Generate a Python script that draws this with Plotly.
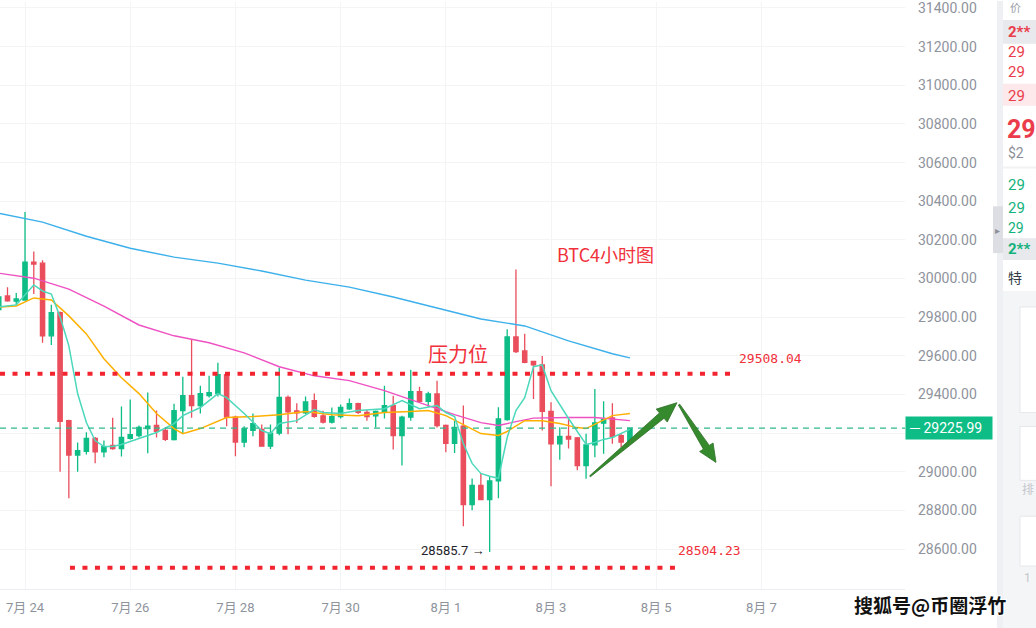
import plotly.graph_objects as go
import pandas as pd

# ---------------- data ----------------
start_time = "2023-07-23 12:00"
opens = [29840, 29910, 29883, 29889, 30085, 30080, 29704, 29824, 29265, 29087,
         29106, 29173, 29103, 29137, 29121, 29173, 29188, 29224, 29240, 29214,
         29167, 29317, 29394, 29343, 29394, 29405, 29503, 29283, 29154, 29215,
         29220, 29133, 29200, 29385, 29315, 29305, 29369, 29290, 29257, 29286,
         29326, 29353, 29308, 29290, 29308, 29343, 29188, 29283, 29415, 29365,
         29403, 29240, 29148, 29236, 28831, 28930, 28857, 28953, 29270, 29698,
         29626, 29571, 29554, 29313, 29145, 29183, 29176, 29033, 29140, 29252,
         29279, 29188, 29154]
highs = [29975, 29955, 29925, 30345, 30140, 30095, 29864, 29830, 29270, 29152,
         29205, 29180, 29162, 29280, 29338, 29374, 29240, 29410, 29317, 29230,
         29353, 29492, 29688, 29446, 29497, 29565, 29505, 29290, 29236, 29302,
         29245, 29245, 29540, 29395, 29355, 29390, 29406, 29316, 29333, 29348,
         29379, 29358, 29322, 29318, 29446, 29394, 29290, 29528, 29441, 29415,
         29472, 29245, 29265, 29343, 28966, 28994, 28973, 29334, 29738, 30047,
         29715, 29575, 29600, 29360, 29231, 29276, 29180, 29197, 29429, 29365,
         29355, 29200, 29230]
lows = [29820, 29880, 29860, 29885, 29920, 29668, 29657, 29000, 28863, 29000,
        29090, 29045, 29075, 29115, 29080, 29167, 29178, 29096, 29178, 29160,
        29162, 29198, 29280, 29302, 29385, 29390, 29236, 29081, 29128, 29184,
        29130, 29118, 29190, 29195, 29253, 29300, 29280, 29250, 29250, 29276,
        29320, 29300, 29265, 29230, 29276, 29116, 29033, 29265, 29360, 29335,
        29230, 29102, 29097, 28719, 28801, 28855, 28585.7, 28863, 29265, 29615,
        29562, 29377, 29214, 28925, 29063, 29121, 29008, 28965, 29076, 29094,
        29145, 29128, 29150]
closes = [29905, 29885, 29895, 30085, 30075, 29704, 29824, 29262, 29087, 29110,
          29173, 29103, 29131, 29120, 29178, 29193, 29230, 29236, 29210, 29168,
          29317, 29394, 29343, 29405, 29410, 29503, 29283, 29154, 29224, 29250,
          29133, 29200, 29385, 29310, 29305, 29362, 29287, 29257, 29286, 29333,
          29353, 29308, 29286, 29313, 29343, 29188, 29283, 29415, 29365, 29403,
          29240, 29148, 29230, 28831, 28930, 28857, 28953, 29274, 29698, 29622,
          29566, 29554, 29313, 29145, 29183, 29170, 29033, 29140, 29254, 29273,
          29183, 29154, 29225.99]

# moving-average lines (candle index -> price)
ma_fast_idx = [0, 2, 4, 5, 6, 7, 8, 9, 10, 11, 12, 13, 14, 16, 18, 20, 21, 23, 25, 26,
               28, 30, 31, 32, 34, 36, 37, 39, 41, 44, 46, 48, 50, 51, 52, 53, 54, 55,
               56, 57, 58, 59, 60, 61, 62, 63, 65, 67, 68, 69, 70, 72]
ma_fast_val = [29853, 29864, 29967, 29936, 29920, 29802, 29652, 29405, 29255, 29162,
               29131, 29131, 29142, 29173, 29204, 29250, 29291, 29333, 29405, 29384,
               29302, 29214, 29198, 29250, 29265, 29322, 29307, 29302, 29317, 29327,
               29369, 29327, 29343, 29307, 29286, 29147, 29044, 28992, 28977, 28967,
               29178, 29317, 29384, 29544, 29554, 29420, 29276, 29142, 29152, 29168,
               29178, 29220]
ma_mid_idx = [0, 2, 4, 6, 8, 10, 12, 14, 16, 18, 20, 21, 23, 26, 29, 32, 35, 38, 41,
              44, 47, 49, 51, 53, 55, 57, 58, 60, 62, 64, 66, 67, 68, 70, 72]
ma_mid_val = [29853, 29858, 29900, 29889, 29807, 29714, 29585, 29487, 29405, 29302,
              29224, 29198, 29224, 29281, 29286, 29296, 29312, 29296, 29291, 29307,
              29312, 29317, 29291, 29245, 29198, 29188, 29209, 29265, 29265, 29250,
              29229, 29224, 29245, 29291, 29302]
ma_slow_idx = [0, 4, 8, 12, 16, 20, 24, 28, 32, 36, 40, 44, 48, 52, 55, 57, 59, 61,
               65, 68, 72]
ma_slow_val = [30028, 30002, 29946, 29858, 29760, 29704, 29668, 29616, 29544, 29497,
               29472, 29420, 29358, 29296, 29255, 29240, 29260, 29278, 29281, 29281,
               29265]
ma_long_idx = [0, 5, 10, 15, 20, 25, 30, 35, 40, 45, 50, 55, 60, 65, 70, 72]
ma_long_val = [30338, 30292, 30219, 30157, 30111, 30080, 30039, 29992, 29956, 29905,
               29848, 29791, 29755, 29678, 29611, 29590]

resistance_level = 29508.04
support_level = 28504.23
last_price = 29225.99
low_label = "28585.7 →"
y_ticks = list(range(28600, 31401, 200))
hidden_tick = 29200  # covered by the last-price tag in the reference
x_tick_dates = ["2023-07-24", "2023-07-26", "2023-07-28", "2023-07-30",
                "2023-08-01", "2023-08-03", "2023-08-05", "2023-08-07"]
x_tick_text = ["7月 24", "7月 26", "7月 28", "7月 30", "8月 1", "8月 3", "8月 5", "8月 7"]

# ---------------- styling ----------------
GREEN = "#0dbd85"
RED = "#ea4e5c"
DOT_RED = "#f2242f"
W, H = 1036, 628
PL, PR, PT, PB = 0, 131, 0, 39
PW, PH = W - PL - PR, H - PT - PB
X0 = pd.Timestamp("2023-07-23 12:35")
X1 = pd.Timestamp("2023-08-09 17:31")
Y0, Y1 = 28394, 31431

dates = pd.date_range(start_time, periods=len(opens), freq="4h")

fig = go.Figure()
fig.add_trace(go.Candlestick(
    x=dates, open=opens, high=highs, low=lows, close=closes,
    increasing=dict(line=dict(color=GREEN, width=1.3), fillcolor=GREEN),
    decreasing=dict(line=dict(color=RED, width=1.3), fillcolor=RED),
    whiskerwidth=0, hoverinfo="skip", showlegend=False))

for idx, val, col, wd in [(ma_long_idx, ma_long_val, "#3cb0ea", 1.4),
                          (ma_slow_idx, ma_slow_val, "#ee52c2", 1.4),
                          (ma_mid_idx, ma_mid_val, "#ffb000", 1.5),
                          (ma_fast_idx, ma_fast_val, "#4cd8bb", 1.5)]:
    fig.add_trace(go.Scatter(x=[dates[i] for i in idx], y=val, mode="lines",
                             line=dict(color=col, width=wd, shape="linear"),
                             hoverinfo="skip", showlegend=False))

# red dotted key levels
fig.add_trace(go.Scatter(x=[X0, pd.Timestamp("2023-08-06 12:00")],
                         y=[resistance_level, resistance_level], mode="lines",
                         line=dict(color=DOT_RED, width=4, dash="5px,7.5px"),
                         hoverinfo="skip", showlegend=False))
fig.add_trace(go.Scatter(x=[pd.Timestamp("2023-07-24 20:30"), pd.Timestamp("2023-08-05 08:40")],
                         y=[support_level, support_level], mode="lines",
                         line=dict(color=DOT_RED, width=4, dash="5px,7.5px"),
                         hoverinfo="skip", showlegend=False))

shapes = []
# last price dashed line
shapes.append(dict(type="line", xref="paper", x0=0, x1=1, yref="y",
                   y0=last_price, y1=last_price,
                   line=dict(color="#2fb98c", width=1.3, dash="6px,5px")))


def to_paper(t, p):
    t = pd.Timestamp(t)
    px = (t - X0) / (X1 - X0) * PW
    py = (Y1 - p) / (Y1 - Y0) * PH
    return px, py


def arrow_path(tail, tip, tail_hw=0.6, shaft_hw=3.5, head_hw=8.5, head_len=20):
    (tx, ty), (hx, hy) = to_paper(*tail), to_paper(*tip)
    dx, dy = hx - tx, hy - ty
    ln = (dx * dx + dy * dy) ** 0.5
    ux, uy = dx / ln, dy / ln
    nx, ny = -uy, ux
    bx, by = hx - ux * head_len, hy - uy * head_len
    pts = [(tx + nx * tail_hw, ty + ny * tail_hw),
           (bx + nx * shaft_hw, by + ny * shaft_hw),
           (bx + nx * head_hw, by + ny * head_hw),
           (hx, hy),
           (bx - nx * head_hw, by - ny * head_hw),
           (bx - nx * shaft_hw, by - ny * shaft_hw),
           (tx - nx * tail_hw, ty - ny * tail_hw)]
    return "M " + " L ".join(f"{x / PW:.5f},{1 - y / PH:.5f}" for x, y in pts) + " Z"


ARROW = "#358a2d"
shapes.append(dict(type="path", xref="paper", yref="paper",
                   path=arrow_path(("2023-08-03 17:47", 28977), ("2023-08-05 09:29", 29358)),
                   fillcolor=ARROW, line=dict(width=0.8, color="#2d6e27")))
shapes.append(dict(type="path", xref="paper", yref="paper",
                   path=arrow_path(("2023-08-05 10:25", 29348), ("2023-08-06 03:17", 29049),
                                   tail_hw=0.8, shaft_hw=3.5, head_hw=8, head_len=18),
                   fillcolor=ARROW, line=dict(width=0.8, color="#2d6e27")))


def px_rect(x0, y0, x1, y1, fill, line=None):
    d = dict(type="rect", xref="paper", yref="paper", x0=x0 / PW, x1=x1 / PW,
             y0=1 - y0 / PH, y1=1 - y1 / PH, fillcolor=fill, layer="above",
             line=dict(width=0) if line is None else dict(width=1, color=line))
    return d


# right side order-book panel (partially visible)
shapes += [
    px_rect(905, 589, 1036, 628, "white"),
    px_rect(997, -1, 1003, 629, "#eff0f3"),
    px_rect(993, 205, 1003, 252, "#dcdee3"),
    px_rect(1003, 18, 1037, 42, "#e8e9ec"),
    px_rect(1003, 82, 1037, 104, "#fde9eb"),
    px_rect(1003, 165, 1037, 167, "#f1f2f4"),
    px_rect(1003, 237, 1037, 259, "#e8e9ec"),
    px_rect(1003, 290, 1037, 629, "#f4f5f7"),
    px_rect(1020, 306, 1040, 412, "white", "#e6e7ea"),
    px_rect(1020, 426, 1040, 480, "white", "#e6e7ea"),
    px_rect(1020, 516, 1040, 566, "white", "#e6e7ea"),
]

annotations = []


def px_text(x, y, text, color, size, weight="normal", xanchor="left", family="Roboto, Noto Sans CJK SC"):
    return dict(xref="paper", yref="paper", x=x / PW, y=1 - y / PH, text=text,
                showarrow=False, xanchor=xanchor, yanchor="middle",
                font=dict(color=color, size=size, family=family, weight=weight))


annotations += [
    px_text(1006, 30, "2**", "#ea3c4a", 15, "bold"),
    px_text(1006, 50, "29", "#ea3c4a", 15),
    px_text(1006, 70, "29", "#ea3c4a", 15),
    px_text(1006, 94, "29", "#ea3c4a", 15),
    px_text(1005, 128, "29", "#ea3c4a", 25, "bold"),
    px_text(1006, 152, "$2", "#8c9099", 14),
    px_text(1006, 184, "29", "#13b27c", 15),
    px_text(1006, 207, "29", "#13b27c", 15),
    px_text(1006, 227, "29", "#13b27c", 14),
    px_text(1006, 248, "2**", "#13b27c", 15, "bold"),
    px_text(1006, 277, "特", "#333a44", 14),
    px_text(1020, 490, "排", "#c4c7cc", 12),
    px_text(1022, 578, "1", "#c4c7cc", 12),
    px_text(993, 229, "▸", "#8c9099", 10),
    px_text(1008, 7, "价", "#9ca0a8", 11),
]

# chart texts
annotations += [
    dict(x=pd.Timestamp("2023-08-01 05:30"), y=29611, xref="x", yref="y", text="压力位",
         showarrow=False, font=dict(color="#f0303a", size=20, family="Noto Sans CJK SC")),
    dict(x=pd.Timestamp("2023-08-04 00:40"), y=30127, xref="x", yref="y", text="BTC4小时图",
         showarrow=False, font=dict(color="#f0303a", size=18, family="Noto Sans CJK SC")),
    dict(x=pd.Timestamp("2023-08-06 12:00"), y=resistance_level, xref="x", yref="y",
         text=f"{resistance_level:.2f}", showarrow=False, xanchor="left", yanchor="bottom",
         xshift=2, yshift=6, font=dict(color="#f0303a", size=13, family="DejaVu Sans Mono")),
    dict(x=pd.Timestamp("2023-08-05 08:40"), y=support_level, xref="x", yref="y",
         text=f"{support_level:.2f}", showarrow=False, xanchor="left", yanchor="bottom",
         xshift=1, yshift=8, font=dict(color="#f0303a", size=13, family="DejaVu Sans Mono")),
    dict(x=dates[lows.index(min(lows))], y=min(lows), xref="x", yref="y", text=low_label,
         showarrow=False, xanchor="right", yanchor="middle", xshift=-3, yshift=1,
         font=dict(color="#1e2329", size=13, family="Roboto")),
    dict(xref="paper", x=1, xanchor="left", yref="y", y=last_price, yanchor="middle",
         text="─ " + f"{last_price:.2f}" + "  ", showarrow=False, bgcolor="#0dbd85",
         borderpad=3, font=dict(color="white", size=14, family="Roboto")),
    dict(xref="paper", yref="paper", x=930 / PW, y=1 - 605 / PH, text="搜狐号@币圈浮竹",
         showarrow=False, xanchor="center", yanchor="middle",
         font=dict(color="#111", size=19, family="Noto Sans CJK SC", weight="bold",
                   shadow="1px 1px 0 #fff, -1px -1px 0 #fff, 1px -1px 0 #fff, -1px 1px 0 #fff")),
]

fig.update_layout(
    width=W, height=H, autosize=False,
    margin=dict(l=PL, r=PR, t=PT, b=PB),
    paper_bgcolor="white", plot_bgcolor="white",
    shapes=shapes, annotations=annotations, showlegend=False,
    xaxis=dict(type="date", range=[X0, X1], rangeslider=dict(visible=False),
               tickvals=x_tick_dates, ticktext=x_tick_text, showgrid=True,
               gridcolor="#f3f4f6", gridwidth=1, zeroline=False, showline=True,
               linecolor="#eceef1", ticks="", ticklabelstandoff=6,
               tickfont=dict(color="#8e939c", size=13, family="Roboto, Noto Sans CJK SC")),
    yaxis=dict(side="right", range=[Y0, Y1], tickvals=y_ticks,
               ticktext=["" if v == hidden_tick else f"{v:.2f}" for v in y_ticks],
               showgrid=True, gridcolor="#f3f4f6", gridwidth=1, zeroline=False,
               showline=False, ticks="", ticklabelstandoff=12, ticklabeloverflow="allow",
               tickfont=dict(color="#8e939c", size=14, family="Roboto")),
)

fig.write_html("out.html", config={"displayModeBar": False},
               post_script="document.body.style.margin='0';")
